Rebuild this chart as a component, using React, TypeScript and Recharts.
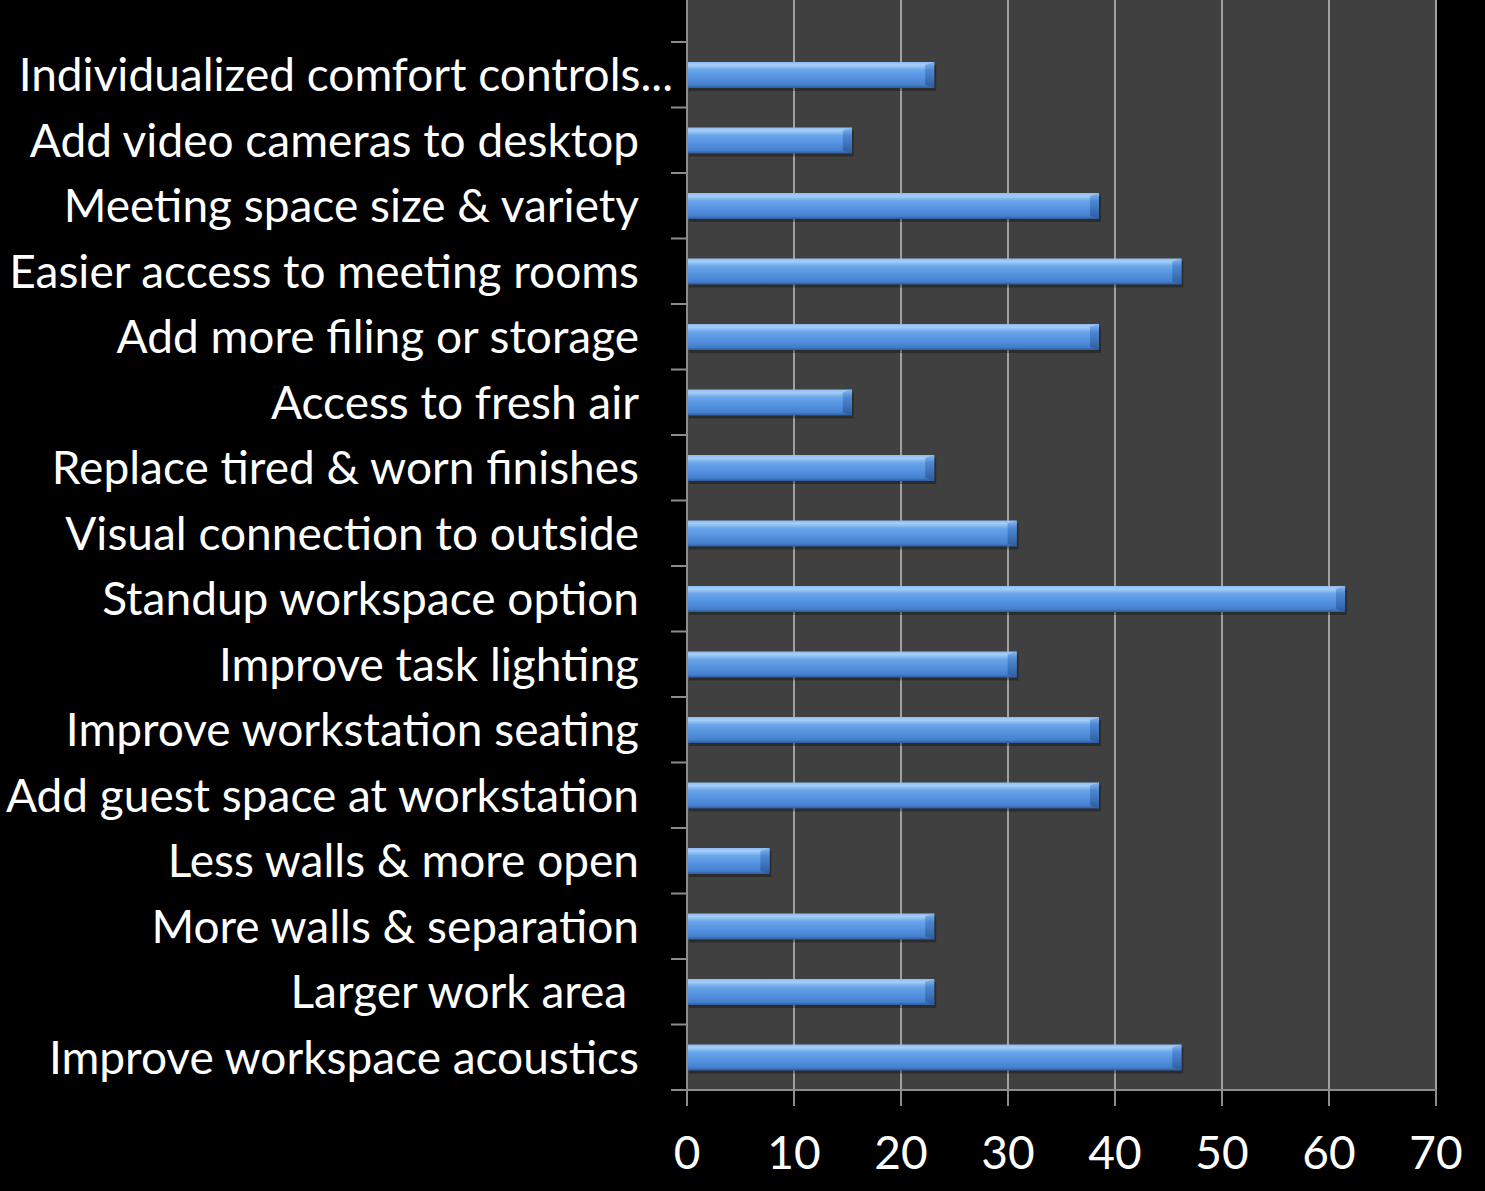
import { Bar, BarChart, CartesianGrid, XAxis, YAxis } from "recharts";

const categories = [
  "Individualized comfort controls...",
  "Add video cameras to desktop",
  "Meeting space size & variety",
  "Easier access to meeting rooms",
  "Add more filing or storage",
  "Access to fresh air",
  "Replace tired & worn finishes",
  "Visual connection to outside",
  "Standup workspace option",
  "Improve task lighting",
  "Improve workstation seating",
  "Add guest space at workstation",
  "Less walls & more open",
  "More walls & separation",
  "Larger work area ",
  "Improve workspace acoustics",
];

const values = [23.1, 15.4, 38.5, 46.2, 38.5, 15.4, 23.1, 30.8, 61.5, 30.8, 38.5, 38.5, 7.7, 23.1, 23.1, 46.2];

const xTicks = [0, 10, 20, 30, 40, 50, 60, 70];

const data = categories.map((name, i) => ({ name, value: values[i] }));

const font = "Lato, 'Open Sans', sans-serif";
const axisGray = "#8c8c8c";
const BAND = (1090 - 42) / categories.length;

function CategoryTick(props: any) {
  const { x, y, payload, index } = props;
  const label: string = payload.value;
  const overflow = label.endsWith("...");
  const isLast = index === categories.length - 1;
  return (
    <g>
      <line x1={x - 16} x2={x} y1={y - BAND / 2} y2={y - BAND / 2} stroke={axisGray} strokeWidth={2} />
      {isLast && <line x1={x - 16} x2={x} y1={y + BAND / 2} y2={y + BAND / 2} stroke={axisGray} strokeWidth={2} />}
      <text
        x={overflow ? x - 14 : x - 48}
        y={y}
        dy="0.36em"
        textAnchor="end"
        fill="#ffffff"
        fontSize={46}
        fontFamily={font}
        style={{ whiteSpace: "pre" }}
      >
        {label}
      </text>
    </g>
  );
}

function BevelBar(props: any) {
  const { x, y, width, height } = props;
  if (!width || width <= 0) return null;
  const b = Math.min(9, width / 2);
  return (
    <g>
      <rect x={x + 2} y={y + 3} width={width} height={height} fill="#000" opacity={0.3} />
      <rect x={x} y={y} width={width} height={height} fill="url(#barGrad)" />
      <polygon
        points={`${x + width - b},${y + 3} ${x + width},${y} ${x + width},${y + height} ${x + width - b},${y + height - 3}`}
        fill="url(#capGrad)"
      />
    </g>
  );
}

export default function App() {
  return (
    <div style={{ position: "absolute", left: 0, top: 0, width: 1485, height: 1191, background: "#000" }}>
      <BarChart
        width={1485}
        height={1191}
        data={data}
        layout="vertical"
        margin={{ top: 0, right: 49, bottom: 0, left: 0 }}
      >
        <defs>
          <linearGradient id="barGrad" x1="0" y1="0" x2="0" y2="1">
            <stop offset="0%" stopColor="#8dbdf2" />
            <stop offset="12%" stopColor="#a6cdf6" />
            <stop offset="30%" stopColor="#6aa6ea" />
            <stop offset="60%" stopColor="#5592e0" />
            <stop offset="88%" stopColor="#4580cf" />
            <stop offset="100%" stopColor="#2d5c9c" />
          </linearGradient>
          <linearGradient id="capGrad" x1="0" y1="0" x2="0" y2="1">
            <stop offset="0%" stopColor="#86b9f0" />
            <stop offset="30%" stopColor="#4d88d3" />
            <stop offset="100%" stopColor="#2c5c9e" />
          </linearGradient>
        </defs>
        <CartesianGrid horizontal={false} fill="#404040" stroke="#a0a0a0" strokeWidth={2} />
        <XAxis
          type="number"
          domain={[0, 70]}
          ticks={xTicks}
          interval={0}
          height={101}
          axisLine={{ stroke: axisGray, strokeWidth: 2 }}
          tickLine={{ stroke: axisGray, strokeWidth: 2 }}
          tickSize={16}
          tickMargin={30}
          tick={{ fill: "#ffffff", fontSize: 46, fontFamily: font }}
        />
        <YAxis
          type="category"
          dataKey="name"
          width={687}
          interval={0}
          padding={{ top: 42, bottom: 0 }}
          axisLine={{ stroke: axisGray, strokeWidth: 2 }}
          tickLine={false}
          tickSize={0}
          tickMargin={0}
          tick={<CategoryTick />}
        />
        <Bar dataKey="value" barSize={26} shape={<BevelBar />} isAnimationActive={false} />
      </BarChart>
    </div>
  );
}
